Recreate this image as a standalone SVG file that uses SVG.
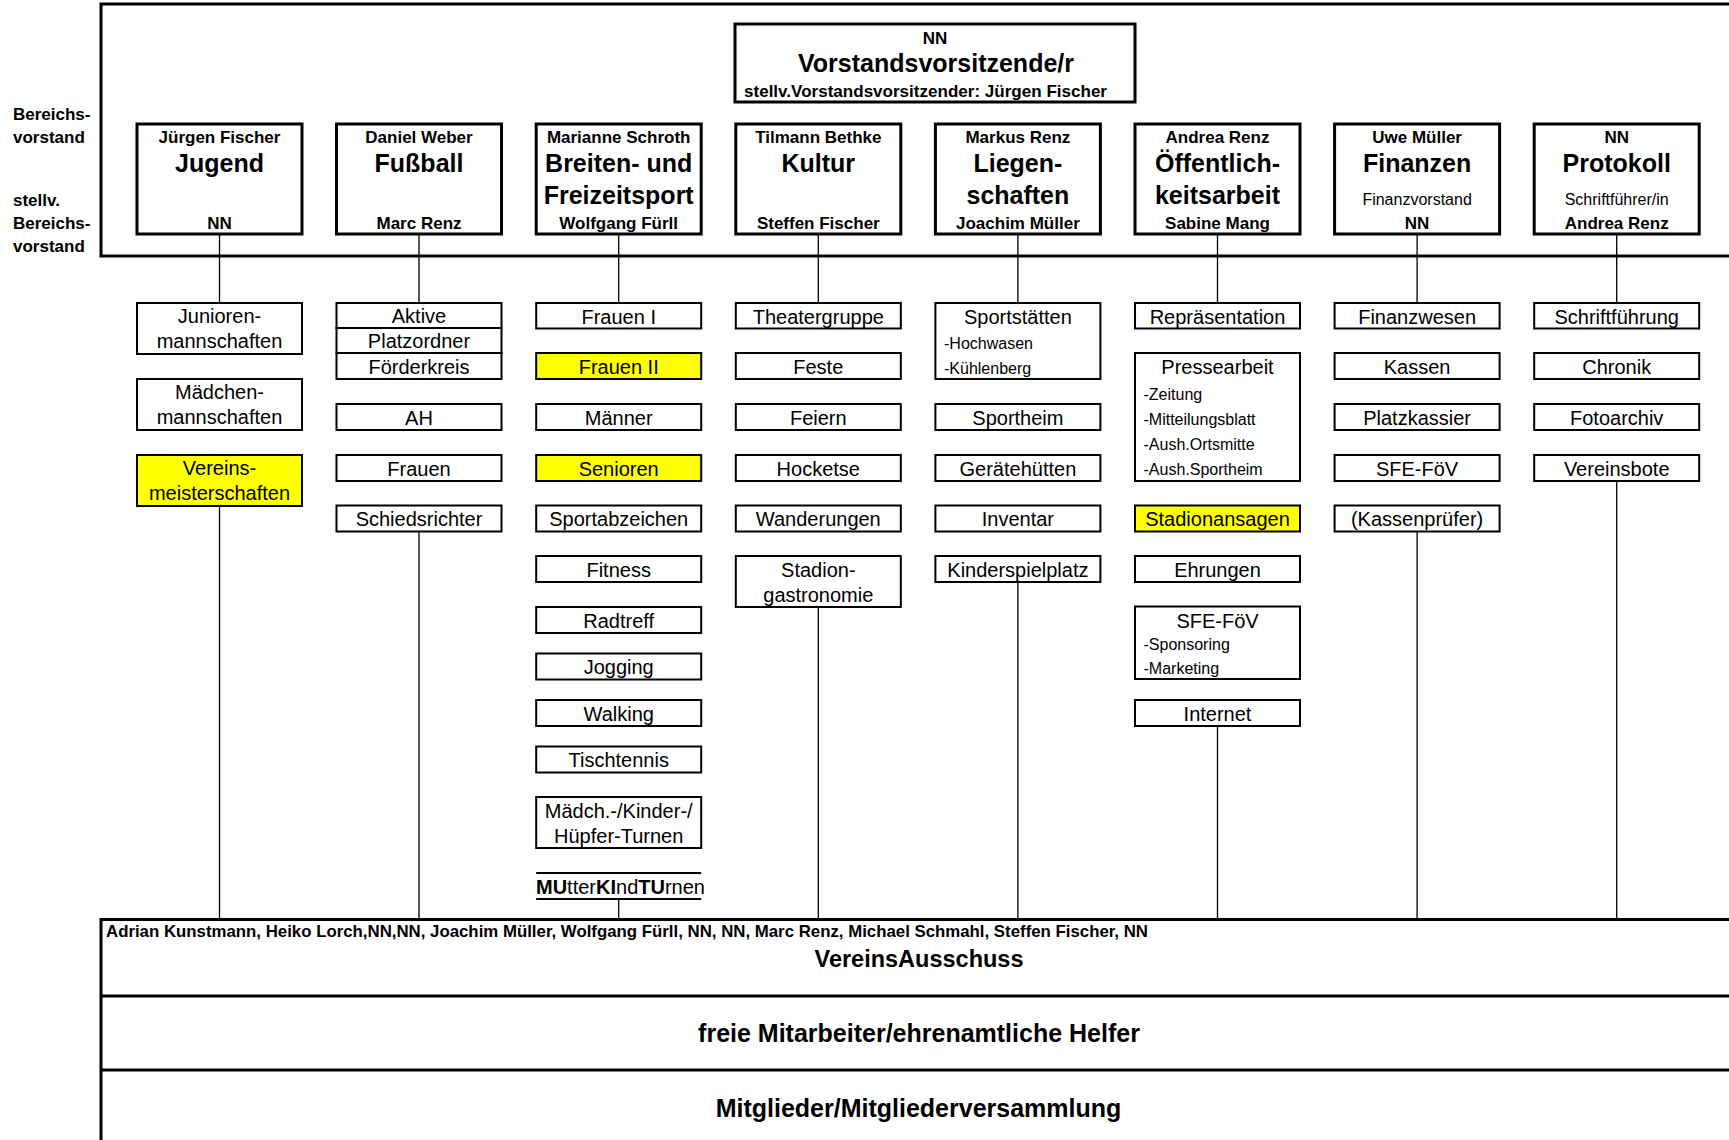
<svg xmlns="http://www.w3.org/2000/svg" width="1729" height="1140" viewBox="0 0 1729 1140">
<style>
text{font-family:"Liberation Sans",Arial,sans-serif;fill:#000}
.b17{font-size:17px;font-weight:bold}
.b25{font-size:25px;font-weight:bold}
.r20{font-size:20px}
.r16{font-size:16px}
.m{text-anchor:middle}
.frame{fill:none;stroke:#000;stroke-width:3}
.top{fill:#fff;stroke:#000;stroke-width:3}
.sub{fill:#fff;stroke:#000;stroke-width:2}
.hl{fill:#ffff00}
.conn{stroke:#000;stroke-width:1.3;fill:none}
</style>
<rect width="1729" height="1140" fill="#fff"/>
<g id="frames">
<path class="frame" d="M1729,4 H101 V256 H1729"/>
<path class="frame" d="M1729,919.5 H101 V1140 M101,996 H1729 M101,1070 H1729"/>
</g>
<g id="side-labels">
<text class="b17" x="13" y="120">Bereichs-</text>
<text class="b17" x="13" y="142.5">vorstand</text>
<text class="b17" x="13" y="206">stellv.</text>
<text class="b17" x="13" y="229">Bereichs-</text>
<text class="b17" x="13" y="252">vorstand</text>
</g>
<g id="connectors">
<path class="conn" d="M219.5,234 V303 M419,234 V303 M618.7,234 V303 M818.3,234 V303 M1017.9,234 V303 M1217.5,234 V303 M1417.1,234 V303 M1616.7,234 V303"/>
<path class="conn" d="M219.5,506 V918 M419,531.5 V918 M618.7,899 V918 M818.3,607 V918 M1017.9,582 V918 M1217.5,726 V918 M1417.1,531.5 V918 M1616.7,481 V918"/>
</g>
<g id="vorstand">
<rect class="top" x="735" y="24" width="400" height="78"/>
<text class="b17 m" x="935" y="43.5">NN</text>
<text class="b25 m" x="936" y="72">Vorstandsvorsitzende/r</text>
<text class="b17" x="744" y="97" textLength="363" lengthAdjust="spacingAndGlyphs">stellv.Vorstandsvorsitzender: Jürgen Fischer</text>
</g>
<g id="jugend">
<rect class="top" x="137" y="124" width="165" height="110"/>
<text class="b17 m" x="219.5" y="142.5">Jürgen Fischer</text>
<text class="b25 m" x="219.5" y="172">Jugend</text>
<text class="b17 m" x="219.5" y="229">NN</text>
</g>
<g id="fussball">
<rect class="top" x="336.5" y="124" width="165" height="110"/>
<text class="b17 m" x="419" y="142.5">Daniel Weber</text>
<text class="b25 m" x="419" y="172">Fußball</text>
<text class="b17 m" x="419" y="229">Marc Renz</text>
</g>
<g id="breitensport">
<rect class="top" x="536.2" y="124" width="165" height="110"/>
<text class="b17 m" x="618.7" y="142.5">Marianne Schroth</text>
<text class="b25 m" x="618.7" y="172">Breiten- und</text>
<text class="b25 m" x="618.7" y="204">Freizeitsport</text>
<text class="b17 m" x="618.7" y="229">Wolfgang Fürll</text>
</g>
<g id="kultur">
<rect class="top" x="735.8" y="124" width="165" height="110"/>
<text class="b17 m" x="818.3" y="142.5">Tilmann Bethke</text>
<text class="b25 m" x="818.3" y="172">Kultur</text>
<text class="b17 m" x="818.3" y="229">Steffen Fischer</text>
</g>
<g id="liegenschaften">
<rect class="top" x="935.4" y="124" width="165" height="110"/>
<text class="b17 m" x="1017.9" y="142.5">Markus Renz</text>
<text class="b25 m" x="1017.9" y="172">Liegen-</text>
<text class="b25 m" x="1017.9" y="204">schaften</text>
<text class="b17 m" x="1017.9" y="229">Joachim Müller</text>
</g>
<g id="oeffentlichkeitsarbeit">
<rect class="top" x="1135" y="124" width="165" height="110"/>
<text class="b17 m" x="1217.5" y="142.5">Andrea Renz</text>
<text class="b25 m" x="1217.5" y="172">Öffentlich-</text>
<text class="b25 m" x="1217.5" y="204">keitsarbeit</text>
<text class="b17 m" x="1217.5" y="229">Sabine Mang</text>
</g>
<g id="finanzen">
<rect class="top" x="1334.6" y="124" width="165" height="110"/>
<text class="b17 m" x="1417.1" y="142.5">Uwe Müller</text>
<text class="b25 m" x="1417.1" y="172">Finanzen</text>
<text class="r16 m" x="1417.1" y="205">Finanzvorstand</text>
<text class="b17 m" x="1417.1" y="229">NN</text>
</g>
<g id="protokoll">
<rect class="top" x="1534.2" y="124" width="165" height="110"/>
<text class="b17 m" x="1616.7" y="142.5">NN</text>
<text class="b25 m" x="1616.7" y="172">Protokoll</text>
<text class="r16 m" x="1616.7" y="205">Schriftführer/in</text>
<text class="b17 m" x="1616.7" y="229">Andrea Renz</text>
</g>
<g id="col-jugend">
<g id="juniorenmannschaften"><rect class="sub" x="137" y="303" width="165" height="51"/><text class="r20 m" x="219.5" y="323">Junioren-</text><text class="r20 m" x="219.5" y="348">mannschaften</text></g>
<g id="maedchenmannschaften"><rect class="sub" x="137" y="379" width="165" height="51"/><text class="r20 m" x="219.5" y="399">Mädchen-</text><text class="r20 m" x="219.5" y="424">mannschaften</text></g>
<g id="vereinsmeisterschaften"><rect class="sub hl" x="137" y="455" width="165" height="51"/><text class="r20 m" x="219.5" y="475">Vereins-</text><text class="r20 m" x="219.5" y="500">meisterschaften</text></g>
</g>
<g id="col-fussball">
<g id="aktive"><rect class="sub" x="336.5" y="303" width="165" height="25"/><text class="r20 m" x="419" y="323">Aktive</text></g>
<g id="platzordner"><rect class="sub" x="336.5" y="328" width="165" height="25"/><text class="r20 m" x="419" y="348">Platzordner</text></g>
<g id="foerderkreis"><rect class="sub" x="336.5" y="353" width="165" height="26"/><text class="r20 m" x="419" y="373.5">Förderkreis</text></g>
<g id="ah"><rect class="sub" x="336.5" y="404" width="165" height="26"/><text class="r20 m" x="419" y="424.5">AH</text></g>
<g id="frauen"><rect class="sub" x="336.5" y="455" width="165" height="26"/><text class="r20 m" x="419" y="475.5">Frauen</text></g>
<g id="schiedsrichter"><rect class="sub" x="336.5" y="505.5" width="165" height="26"/><text class="r20 m" x="419" y="526">Schiedsrichter</text></g>
</g>
<g id="col-breitensport">
<g id="frauen1"><rect class="sub" x="536.2" y="303" width="165" height="25.5"/><text class="r20 m" x="618.7" y="323.5">Frauen I</text></g>
<g id="frauen2"><rect class="sub hl" x="536.2" y="353" width="165" height="26"/><text class="r20 m" x="618.7" y="373.5">Frauen II</text></g>
<g id="maenner"><rect class="sub" x="536.2" y="404" width="165" height="26"/><text class="r20 m" x="618.7" y="424.5">Männer</text></g>
<g id="senioren"><rect class="sub hl" x="536.2" y="455" width="165" height="26"/><text class="r20 m" x="618.7" y="475.5">Senioren</text></g>
<g id="sportabzeichen"><rect class="sub" x="536.2" y="505.5" width="165" height="26"/><text class="r20 m" x="618.7" y="526">Sportabzeichen</text></g>
<g id="fitness"><rect class="sub" x="536.2" y="556" width="165" height="26"/><text class="r20 m" x="618.7" y="576.5">Fitness</text></g>
<g id="radtreff"><rect class="sub" x="536.2" y="607" width="165" height="26"/><text class="r20 m" x="618.7" y="627.5">Radtreff</text></g>
<g id="jogging"><rect class="sub" x="536.2" y="653.5" width="165" height="26"/><text class="r20 m" x="618.7" y="674">Jogging</text></g>
<g id="walking"><rect class="sub" x="536.2" y="700" width="165" height="26"/><text class="r20 m" x="618.7" y="720.5">Walking</text></g>
<g id="tischtennis"><rect class="sub" x="536.2" y="746.5" width="165" height="26"/><text class="r20 m" x="618.7" y="767">Tischtennis</text></g>
<g id="turnen"><rect class="sub" x="536.2" y="797" width="165" height="51"/><text class="r20 m" x="618.7" y="818">Mädch.-/Kinder-/</text><text class="r20 m" x="618.7" y="843">Hüpfer-Turnen</text></g>
<g id="mukitu"><path d="M536.2,873 H701.2 M536.2,899 H701.2" stroke="#000" stroke-width="2" fill="none"/><text class="r20" x="536" y="894"><tspan font-weight="bold">MU</tspan>tter<tspan font-weight="bold">KI</tspan>nd<tspan font-weight="bold">TU</tspan>rnen</text></g>
</g>
<g id="col-kultur">
<g id="theatergruppe"><rect class="sub" x="735.8" y="303" width="165" height="25.5"/><text class="r20 m" x="818.3" y="323.5">Theatergruppe</text></g>
<g id="feste"><rect class="sub" x="735.8" y="353" width="165" height="26"/><text class="r20 m" x="818.3" y="373.5">Feste</text></g>
<g id="feiern"><rect class="sub" x="735.8" y="404" width="165" height="26"/><text class="r20 m" x="818.3" y="424.5">Feiern</text></g>
<g id="hocketse"><rect class="sub" x="735.8" y="455" width="165" height="26"/><text class="r20 m" x="818.3" y="475.5">Hocketse</text></g>
<g id="wanderungen"><rect class="sub" x="735.8" y="505.5" width="165" height="26"/><text class="r20 m" x="818.3" y="526">Wanderungen</text></g>
<g id="stadiongastronomie"><rect class="sub" x="735.8" y="556" width="165" height="51"/><text class="r20 m" x="818.3" y="577">Stadion-</text><text class="r20 m" x="818.3" y="601.5">gastronomie</text></g>
</g>
<g id="col-liegenschaften">
<g id="sportstaetten"><rect class="sub" x="935.4" y="303" width="165" height="76"/><text class="r20 m" x="1017.9" y="323.5">Sportstätten</text><text class="r16" x="944" y="349">-Hochwasen</text><text class="r16" x="944" y="374">-Kühlenberg</text></g>
<g id="sportheim"><rect class="sub" x="935.4" y="404" width="165" height="26"/><text class="r20 m" x="1017.9" y="424.5">Sportheim</text></g>
<g id="geraetehuetten"><rect class="sub" x="935.4" y="455" width="165" height="26"/><text class="r20 m" x="1017.9" y="475.5">Gerätehütten</text></g>
<g id="inventar"><rect class="sub" x="935.4" y="505.5" width="165" height="26"/><text class="r20 m" x="1017.9" y="526">Inventar</text></g>
<g id="kinderspielplatz"><rect class="sub" x="935.4" y="556" width="165" height="26"/><text class="r20 m" x="1017.9" y="576.5">Kinderspielplatz</text></g>
</g>
<g id="col-oeffentlichkeit">
<g id="repraesentation"><rect class="sub" x="1135" y="303" width="165" height="25.5"/><text class="r20 m" x="1217.5" y="323.5">Repräsentation</text></g>
<g id="pressearbeit"><rect class="sub" x="1135" y="353" width="165" height="128"/><text class="r20 m" x="1217.5" y="374">Pressearbeit</text><text class="r16" x="1143.5" y="399.5">-Zeitung</text><text class="r16" x="1143.5" y="424.5">-Mitteilungsblatt</text><text class="r16" x="1143.5" y="449.5">-Aush.Ortsmitte</text><text class="r16" x="1143.5" y="475">-Aush.Sportheim</text></g>
<g id="stadionansagen"><rect class="sub hl" x="1135" y="505.5" width="165" height="26"/><text class="r20 m" x="1217.5" y="526">Stadionansagen</text></g>
<g id="ehrungen"><rect class="sub" x="1135" y="556" width="165" height="26"/><text class="r20 m" x="1217.5" y="576.5">Ehrungen</text></g>
<g id="sfe-foev-oe"><rect class="sub" x="1135" y="606.5" width="165" height="72.5"/><text class="r20 m" x="1217.5" y="627.5">SFE-FöV</text><text class="r16" x="1143.5" y="650">-Sponsoring</text><text class="r16" x="1143.5" y="673.5">-Marketing</text></g>
<g id="internet"><rect class="sub" x="1135" y="700" width="165" height="26"/><text class="r20 m" x="1217.5" y="720.5">Internet</text></g>
</g>
<g id="col-finanzen">
<g id="finanzwesen"><rect class="sub" x="1334.6" y="303" width="165" height="25.5"/><text class="r20 m" x="1417.1" y="323.5">Finanzwesen</text></g>
<g id="kassen"><rect class="sub" x="1334.6" y="353" width="165" height="26"/><text class="r20 m" x="1417.1" y="373.5">Kassen</text></g>
<g id="platzkassier"><rect class="sub" x="1334.6" y="404" width="165" height="26"/><text class="r20 m" x="1417.1" y="424.5">Platzkassier</text></g>
<g id="sfe-foev-fin"><rect class="sub" x="1334.6" y="455" width="165" height="26"/><text class="r20 m" x="1417.1" y="475.5">SFE-FöV</text></g>
<g id="kassenpruefer"><rect class="sub" x="1334.6" y="505.5" width="165" height="26"/><text class="r20 m" x="1417.1" y="526">(Kassenprüfer)</text></g>
</g>
<g id="col-protokoll">
<g id="schriftfuehrung"><rect class="sub" x="1534.2" y="303" width="165" height="25.5"/><text class="r20 m" x="1616.7" y="323.5">Schriftführung</text></g>
<g id="chronik"><rect class="sub" x="1534.2" y="353" width="165" height="26"/><text class="r20 m" x="1616.7" y="373.5">Chronik</text></g>
<g id="fotoarchiv"><rect class="sub" x="1534.2" y="404" width="165" height="26"/><text class="r20 m" x="1616.7" y="424.5">Fotoarchiv</text></g>
<g id="vereinsbote"><rect class="sub" x="1534.2" y="455" width="165" height="26"/><text class="r20 m" x="1616.7" y="475.5">Vereinsbote</text></g>
</g>
<g id="vereinsausschuss">
<text class="b17" x="106" y="937" textLength="1042" lengthAdjust="spacingAndGlyphs">Adrian Kunstmann, Heiko Lorch,NN,NN, Joachim Müller, Wolfgang Fürll, NN, NN, Marc Renz, Michael Schmahl, Steffen Fischer, NN</text>
<text class="m" x="919" y="966.5" font-size="23.5" font-weight="bold">VereinsAusschuss</text>
</g>
<g id="helfer"><text class="b25 m" x="919" y="1042">freie Mitarbeiter/ehrenamtliche Helfer</text></g>
<g id="mitglieder"><text class="b25 m" x="918.5" y="1117">Mitglieder/Mitgliederversammlung</text></g>
</svg>
